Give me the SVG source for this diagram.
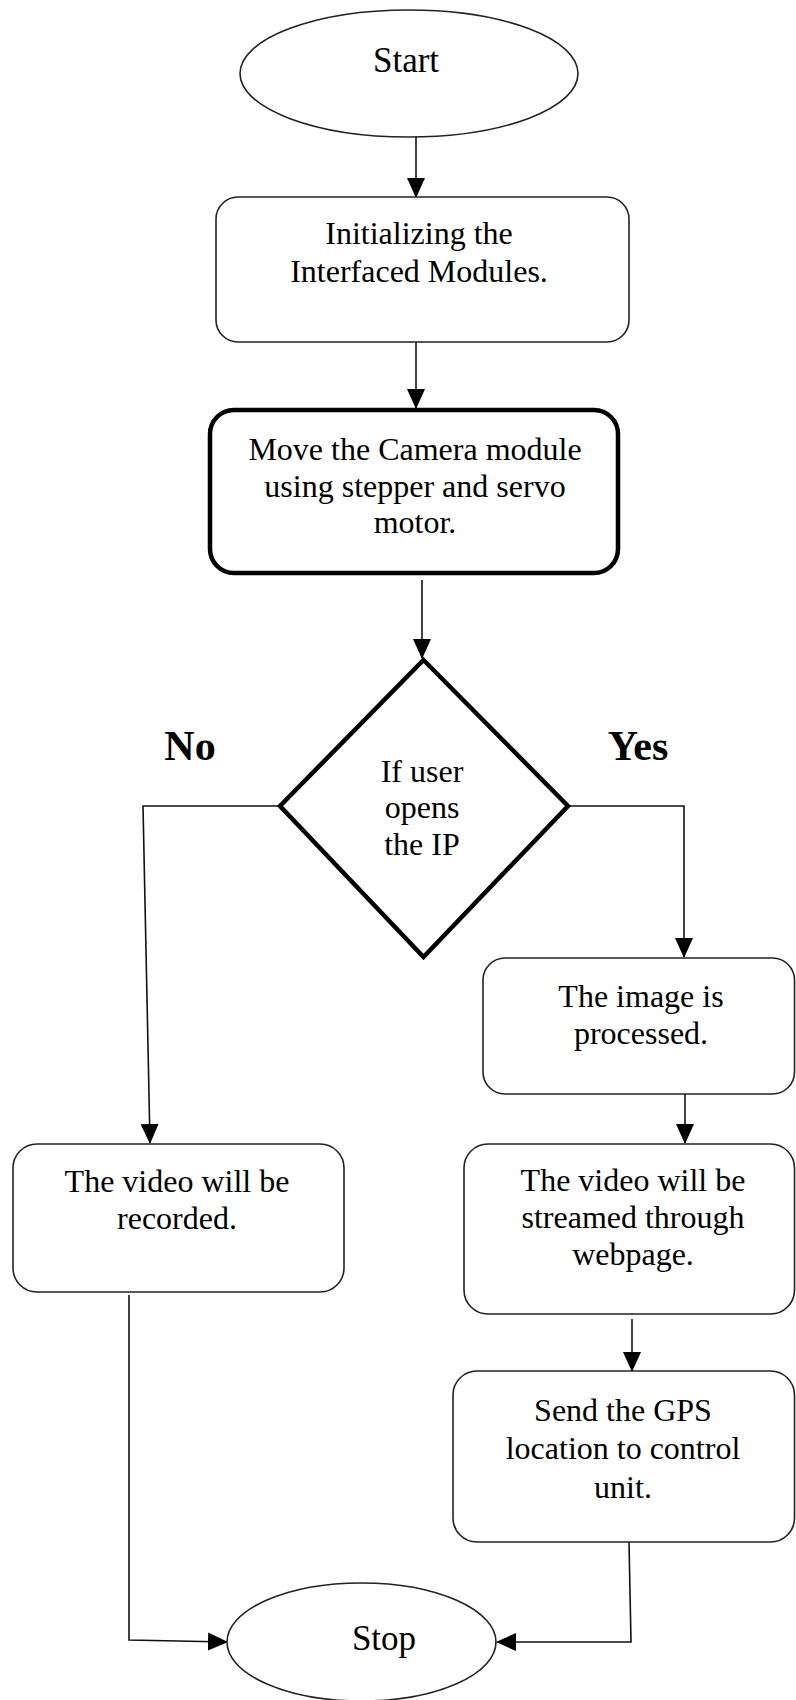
<svg xmlns="http://www.w3.org/2000/svg" width="796" height="1700" viewBox="0 0 796 1700">
<style>
.bg{fill:#fff}
.node{fill:#fff;stroke:#222;stroke-width:1.6}
.bold{fill:#fff;stroke:#000;stroke-width:4.5}
.t{font-family:"Liberation Serif","Times New Roman",serif;font-size:32px;fill:#000;text-anchor:middle}
.term{font-size:35px}
.lbl{font-family:"Liberation Serif","Times New Roman",serif;font-size:42px;font-weight:bold;fill:#000;text-anchor:middle}
.c{fill:none;stroke:#111;stroke-width:1.6}
</style>
<defs>
<marker id="ah" markerUnits="userSpaceOnUse" markerWidth="20" markerHeight="20" viewBox="0 0 20 20" refX="19" refY="10" orient="auto">
<path d="M0,1 L20,10 L0,19 Z" fill="#000"/>
</marker>
</defs>
<rect class="bg" x="0" y="0" width="796" height="1700"/>
<g id="connectors">
<path class="c" d="M416,137 L416,197" marker-end="url(#ah)"/>
<path class="c" d="M416,342 L416,408" marker-end="url(#ah)"/>
<path class="c" d="M422,580 L422,658" marker-end="url(#ah)"/>
<path class="c" d="M280,806 L143,806 L150,1143" marker-end="url(#ah)"/>
<path class="c" d="M568,806 L684,806 L684,957" marker-end="url(#ah)"/>
<path class="c" d="M685,1094 L685,1143" marker-end="url(#ah)"/>
<path class="c" d="M632,1319 L632,1371" marker-end="url(#ah)"/>
<path class="c" d="M629,1542 L631,1642 L497,1642" marker-end="url(#ah)"/>
<path class="c" d="M129,1295 L129,1640 L227,1642" marker-end="url(#ah)"/>
</g>
<g id="start">
<ellipse class="node" cx="409" cy="73.5" rx="169" ry="63.5"/>
<text class="t term" x="406" y="72">Start</text>
</g>
<g id="init">
<rect class="node" x="216" y="197" width="413" height="145" rx="22"/>
<text class="t" x="419" y="244">Initializing the</text>
<text class="t" x="419" y="282">Interfaced Modules.</text>
</g>
<g id="move">
<rect class="bold" x="210" y="410" width="408" height="163" rx="24"/>
<text class="t" x="415" y="460">Move the Camera module</text>
<text class="t" x="415" y="497">using stepper and servo</text>
<text class="t" x="415" y="533">motor.</text>
</g>
<g id="decision">
<polygon class="bold" points="423.5,660 568,806 423.5,957 280,806"/>
<text class="t" x="422" y="782">If user</text>
<text class="t" x="422" y="818">opens</text>
<text class="t" x="422" y="855">the IP</text>
</g>
<g id="label-no"><text class="lbl" x="190" y="760">No</text></g>
<g id="label-yes"><text class="lbl" x="638" y="760">Yes</text></g>
<g id="image">
<rect class="node" x="483" y="958" width="311.5" height="136" rx="22"/>
<text class="t" x="641" y="1007">The image is</text>
<text class="t" x="641" y="1044">processed.</text>
</g>
<g id="stream">
<rect class="node" x="464" y="1144" width="330.5" height="170" rx="24"/>
<text class="t" x="633" y="1191">The video will be</text>
<text class="t" x="633" y="1228">streamed through</text>
<text class="t" x="633" y="1265">webpage.</text>
</g>
<g id="record">
<rect class="node" x="13" y="1144" width="331" height="148" rx="24"/>
<text class="t" x="177" y="1192">The video will be</text>
<text class="t" x="177" y="1229">recorded.</text>
</g>
<g id="gps">
<rect class="node" x="453" y="1371" width="341.5" height="171" rx="24"/>
<text class="t" x="623" y="1421">Send the GPS</text>
<text class="t" x="623" y="1459">location to control</text>
<text class="t" x="623" y="1498">unit.</text>
</g>
<g id="stop">
<ellipse class="node" cx="361.5" cy="1642" rx="134.5" ry="59"/>
<text class="t term" x="384" y="1650">Stop</text>
</g>
</svg>
